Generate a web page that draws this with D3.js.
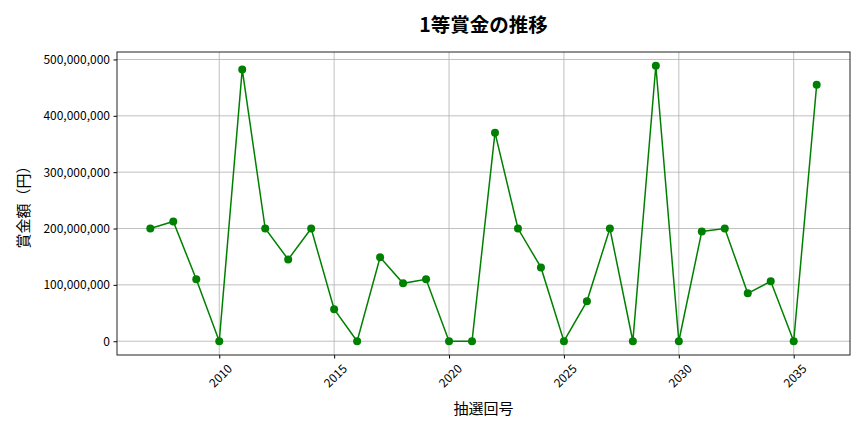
<!DOCTYPE html>
<html>
<head>
<meta charset="utf-8">
<script src="https://cdn.jsdelivr.net/npm/d3@7"></script>
<style>
  body { margin: 0; background: #fff; }
  svg, svg text { font-family: "Noto Sans CJK JP", "Noto Sans", sans-serif; }
</style>
</head>
<body>
<div id="chart"></div>
<script>
// draw numbers and the prize paid for each
const draws = [2007, 2008, 2009, 2010, 2011, 2012, 2013, 2014, 2015, 2016,
  2017, 2018, 2019, 2020, 2021, 2022, 2023, 2024, 2025, 2026,
  2027, 2028, 2029, 2030, 2031, 2032, 2033, 2034, 2035, 2036];
const prizes = [200000000, 212500000, 110000000, 0, 482300000, 200000000, 145200000, 200000000, 56700000, 0,
  148800000, 102700000, 110000000, 0, 0, 370100000, 200000000, 131000000, 0, 70800000,
  200000000, 0, 488800000, 0, 194800000, 200000000, 85000000, 106300000, 0, 455100000];
const xTicks = [2010, 2015, 2020, 2025, 2030, 2035];
const yTicks = [0, 100000000, 200000000, 300000000, 400000000, 500000000];

const width = 864, height = 432;
const margin = { top: 52, right: 14, bottom: 77, left: 117 };
const font = '"Noto Sans CJK JP", "Noto Sans", sans-serif';

const svg = d3.select('#chart').append('svg')
  .attr('width', width)
  .attr('height', height);

// matplotlib style 5% padding around the data
const xMin = d3.min(draws), xMax = d3.max(draws);
const xPad = (xMax - xMin) * 0.05;
const x = d3.scaleLinear()
  .domain([xMin - xPad, xMax + xPad])
  .range([margin.left, width - margin.right]);

const yMax = d3.max(prizes);
const yPad = yMax * 0.05;
const y = d3.scaleLinear()
  .domain([-yPad, yMax + yPad])
  .range([height - margin.bottom, margin.top]);

// grid
svg.append('g')
  .selectAll('line.vg')
  .data(xTicks)
  .enter().append('line')
  .attr('x1', d => x(d)).attr('x2', d => x(d))
  .attr('y1', margin.top).attr('y2', height - margin.bottom)
  .attr('stroke', '#b0b0b0').attr('stroke-width', 0.8);

svg.append('g')
  .selectAll('line.hg')
  .data(yTicks)
  .enter().append('line')
  .attr('x1', margin.left).attr('x2', width - margin.right)
  .attr('y1', d => y(d)).attr('y2', d => y(d))
  .attr('stroke', '#b0b0b0').attr('stroke-width', 0.8);

// axes
const xAxis = svg.append('g')
  .attr('transform', 'translate(0,' + (height - margin.bottom) + ')')
  .call(d3.axisBottom(x).tickValues(xTicks).tickFormat(d3.format('d')).tickSize(3.5).tickSizeOuter(0));
xAxis.attr('font-family', font);
xAxis.select('.domain').remove();
xAxis.selectAll('text')
  .attr('font-size', 12)
  .attr('fill', '#000')
  .attr('text-anchor', 'middle')
  .attr('dy', null)
  .attr('y', 0)
  .attr('transform', 'translate(0,20) rotate(-45)')
  .attr('dominant-baseline', 'central');

const yAxis = svg.append('g')
  .attr('transform', 'translate(' + margin.left + ',0)')
  .call(d3.axisLeft(y).tickValues(yTicks).tickFormat(d3.format(',')).tickSize(3.5).tickPadding(3.5));
yAxis.attr('font-family', font);
yAxis.select('.domain').remove();
yAxis.selectAll('text').attr('font-size', 12).attr('fill', '#000');

// frame
svg.append('rect')
  .attr('x', margin.left).attr('y', margin.top)
  .attr('width', width - margin.left - margin.right)
  .attr('height', height - margin.top - margin.bottom)
  .attr('fill', 'none').attr('stroke', '#222').attr('stroke-width', 1);

// line + markers
const points = draws.map((d, i) => ({ draw: d, prize: prizes[i] }));

svg.append('path')
  .datum(points)
  .attr('fill', 'none')
  .attr('stroke', 'green')
  .attr('stroke-width', 1.5)
  .attr('d', d3.line().x(d => x(d.draw)).y(d => y(d.prize)));

svg.append('g')
  .selectAll('circle')
  .data(points)
  .enter().append('circle')
  .attr('cx', d => x(d.draw))
  .attr('cy', d => y(d.prize))
  .attr('r', 4)
  .attr('fill', 'green');

// labels
svg.append('text')
  .attr('x', (margin.left + width - margin.right) / 2)
  .attr('y', 32)
  .attr('text-anchor', 'middle')
  .attr('font-size', 19.5)
  .attr('font-weight', 'bold')
  .text('1等賞金の推移');

svg.append('text')
  .attr('x', (margin.left + width - margin.right) / 2)
  .attr('y', 414)
  .attr('text-anchor', 'middle')
  .attr('font-size', 15)
  .text('抽選回号');

svg.append('text')
  .attr('transform', 'translate(29,' + ((margin.top + height - margin.bottom) / 2) + ') rotate(-90)')
  .attr('text-anchor', 'middle')
  .attr('font-size', 15)
  .text('賞金額（円）');
</script>
</body>
</html>
